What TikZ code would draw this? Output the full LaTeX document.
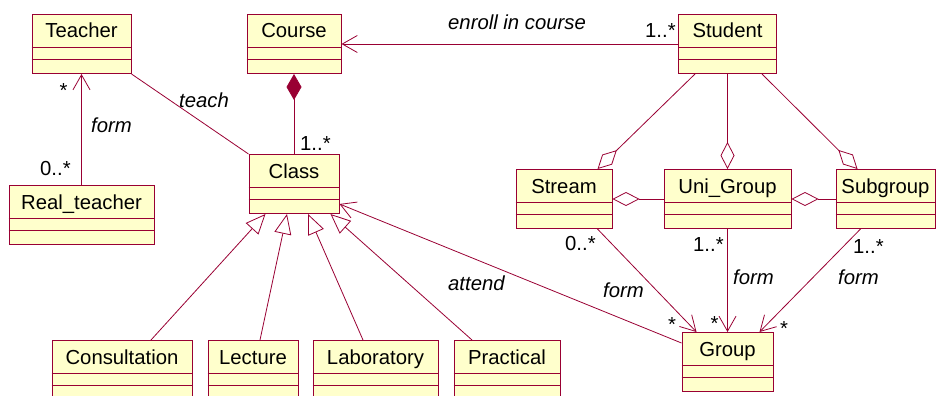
\documentclass[tikz,border=0pt]{standalone}
\usepackage{fontspec}
\setmainfont{Liberation Sans}
\usetikzlibrary{calc,arrows.meta}
\definecolor{umlred}{RGB}{153,0,51}
\definecolor{umlfill}{RGB}{255,255,204}

% class box: name, x, top y, width, title
\newcommand{\umlclass}[5]{%
	\node[classbox, minimum width=#4pt, anchor=north] (#1) at (#2,#3) {};
	\node[anchor=base] (#1-name) at ($(#1.north)+(0,24)$) {#5};
	\draw[umlred, line width=0.8pt] ($(#1.north west)+(0,33)$) -- ($(#1.north east)+(0,33)$);
	\draw[umlred, line width=0.8pt] ($(#1.north west)+(0,45)$) -- ($(#1.north east)+(0,45)$);
}

\begin{document}
\fontsize{20.3}{24}\selectfont
\begin{tikzpicture}[x=1pt,y=-1pt,
	classbox/.style={draw=umlred, fill=umlfill, line width=1pt, minimum height=59pt, inner sep=0pt},
	assoc/.style={umlred, line width=0.8pt},
	navig/.style={assoc, -{Straight Barb[length=15pt, width=17pt]}},
	inherit/.style={assoc, -{Triangle[open, length=20pt, width=17pt]}},
	aggr/.style={assoc, -{Diamond[open, length=27pt, width=14pt]}},
	compos/.style={assoc, -{Diamond[length=26pt, width=15pt]}},
	mult/.style={anchor=base west, inner sep=0pt},
	star/.style={anchor=base, inner sep=0pt},
	role/.style={anchor=base west, inner sep=0pt, font=\itshape}]
	
	\useasboundingbox (0,0) rectangle (937,396);
	
	% Draw the classes
	\umlclass{teacher}{81.5}{14}{99}{Teacher}
	\umlclass{course}{294}{14}{94}{Course}
	\umlclass{student}{727.5}{14}{98}{Student}
	\umlclass{class}{294}{154}{90}{Class}
	\umlclass{realteacher}{81.5}{185}{145}{Real\_teacher}
	\umlclass{stream}{564}{169}{96}{Stream}
	\umlclass{unigroup}{727.5}{169}{127}{Uni\_Group}
	\umlclass{subgroup}{885.5}{169}{99}{Subgroup}
	\umlclass{group}{727.5}{332}{91}{Group}
	\umlclass{consultation}{122}{340}{140}{Consultation}
	\umlclass{lecture}{253}{340}{90}{Lecture}
	\umlclass{laboratory}{375.5}{340}{125}{Laboratory}
	\umlclass{practical}{507}{340}{106}{Practical}
	
	% Draw the kinds of class
	\draw[inherit] ([xshift=29pt]consultation.north) -- ([xshift=17pt]class.south west);
	\draw[inherit] ([xshift=7pt]lecture.north) -- ([xshift=-7pt]class.south);
	\draw[inherit] ([xshift=-12.5pt]laboratory.north) -- ([xshift=14pt]class.south);
	\draw[inherit] ([xshift=-35pt]practical.north) -- ([xshift=-9pt]class.south east);
	
	% Draw teacher and course links
	\draw[navig] (realteacher.north) -- (teacher.south);
	\draw[assoc] (teacher.south east) -- (class.north west);
	\draw[compos] (class.north) -- (course.south);
	\draw[navig] (student.west) -- (course.east);
	\draw[navig] ([yshift=19pt]group.west) -- ([yshift=10pt]class.south east);
	
	% Draw student groupings
	\draw[aggr] ([xshift=17pt]student.south west) -- ([xshift=-15pt]stream.north east);
	\draw[aggr] (student.south) -- (unigroup.north);
	\draw[aggr] ([xshift=-15pt]student.south east) -- ([xshift=22pt]subgroup.north west);
	\draw[aggr] (unigroup.west) -- (stream.east);
	\draw[aggr] (subgroup.west) -- (unigroup.east);
	\draw[navig] ([xshift=-15pt]stream.south east) -- ([xshift=15pt]group.north west);
	\draw[navig] (unigroup.south) -- (group.north);
	\draw[navig] ([xshift=25pt]subgroup.south west) -- ([xshift=-14pt]group.north east);
	
	% Labels
	\node[star] (m-teacher) at (63.5,97) {*};
	\node[mult] (m-realteacher) at (40,175) {0..*};
	\node[role] (r-form1) at (91,132) {form};
	\node[role] (r-teach) at (179,107) {teach};
	\node[mult] (m-class) at (300,150) {1..*};
	\node[role] (r-enroll) at (448,30) {enroll in course};
	\node[mult] (m-student) at (645,38) {1..*};
	\node[role] (r-attend) at (448,290) {attend};
	\node[mult] (m-stream) at (565,250) {0..*};
	\node[role] (r-form2) at (603,297) {form};
	\node[star] (m-group1) at (672,331) {*};
	\node[mult] (m-unigroup) at (693,251) {1..*};
	\node[star] (m-group2) at (714.5,330) {*};
	\node[role] (r-form3) at (733,284) {form};
	\node[mult] (m-subgroup) at (853,253) {1..*};
	\node[role] (r-form4) at (838,284) {form};
	\node[star] (m-group3) at (784,335) {*};

\end{tikzpicture}
\end{document}
